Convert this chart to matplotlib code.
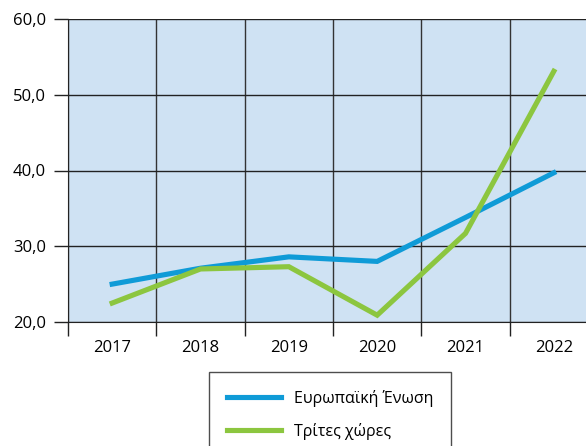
import matplotlib
matplotlib.use("Agg")
import matplotlib.pyplot as plt
from matplotlib.ticker import FuncFormatter, FixedLocator
import numpy as np

plt.rcParams['font.family'] = ['Open Sans', 'DejaVu Sans']

years = ["2017", "2018", "2019", "2020", "2021", "2022"]
eu_values = [25.0, 27.1, 28.6, 28.0, 33.8, 39.7]
third_values = [22.5, 27.0, 27.3, 20.9, 31.7, 53.1]
series_names = ["Ευρωπαϊκή Ένωση", "Τρίτες χώρες"]

blue = "#0f9bd7"
green = "#8cc63f"

fig = plt.figure(figsize=(5.86, 4.46), dpi=100)
# axes runs off the right edge, like the original
ax = fig.add_axes([68 / 586, 1 - 322 / 446, 530 / 586, 303 / 446])
ax.set_facecolor("#cfe2f3")

x = np.arange(len(years))
ax.plot(x, eu_values, color=blue, lw=3.7, solid_joinstyle="miter", label=series_names[0], zorder=3)
ax.plot(x, third_values, color=green, lw=3.7, solid_joinstyle="miter", label=series_names[1], zorder=3)

ax.set_xlim(-0.5, len(years) - 0.5)
ax.set_ylim(20, 60)
ax.set_yticks([20, 30, 40, 50, 60])
ax.yaxis.set_major_formatter(FuncFormatter(lambda v, p: f"{v:.1f}".replace(".", ",")))

# category labels in the middle, ticks and grid on the boundaries
ax.set_xticks(x)
ax.set_xticklabels(years)
ax.xaxis.set_minor_locator(FixedLocator(np.arange(-0.5, len(years), 1.0)))
ax.tick_params(axis="x", which="major", length=0, pad=13, labelsize=12)
ax.tick_params(axis="x", which="minor", length=10, width=1, color="#222222")
ax.tick_params(axis="y", length=10, width=1, color="#222222", labelsize=12, pad=6)
ax.grid(True, axis="x", which="minor", color="#333333", lw=1, zorder=1)
ax.grid(True, axis="y", which="major", color="#222222", lw=1, zorder=1)
ax.grid(False, axis="x", which="major")

for side in ["top", "right"]:
    ax.spines[side].set_visible(False)
ax.spines["left"].set_color("#222222")
ax.spines["bottom"].set_color("#222222")

leg = fig.legend(loc="upper center", bbox_to_anchor=(330 / 586, 1 - 372 / 446),
                 frameon=True, fancybox=False, edgecolor="#222222", fontsize=11.5,
                 handlelength=3.4, handletextpad=0.8, borderpad=1.1, labelspacing=1.0,
                 borderaxespad=0)
leg.get_frame().set_linewidth(1)
for line in leg.get_lines():
    line.set_linewidth(3.7)

fig.savefig("out.png", dpi=100)
